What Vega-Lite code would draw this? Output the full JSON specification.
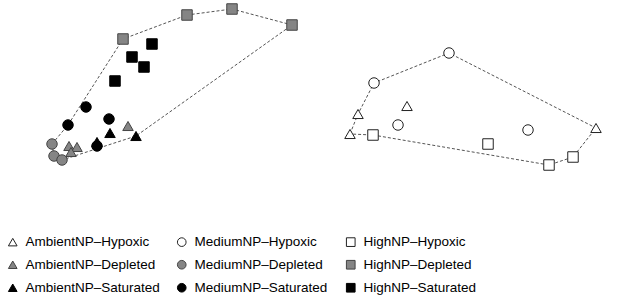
{
  "$schema": "https://vega.github.io/schema/vega-lite/v6.json",
  "padding": 0,
  "spacing": 0,
  "config": {
    "view": {"stroke": null},
    "font": "Liberation Sans",
    "legend": {
      "orient": "bottom",
      "columns": 3,
      "direction": "horizontal",
      "gridAlign": "all",
      "title": null,
      "labelFont": "Liberation Sans",
      "labelFontSize": 13.5,
      "labelColor": "#000000",
      "symbolSize": 75,
      "symbolStrokeWidth": 1,
      "rowPadding": 8,
      "columnPadding": 15,
      "labelOffset": 6,
      "offset": 29,
      "padding": 6,
      "labelLimit": 300
    }
  },
  "datasets": {
    "pts": [
      {"panel": "A", "group": "HighNP–Depleted", "NMDS1": -0.47, "NMDS2": 0.51},
      {"panel": "A", "group": "HighNP–Depleted", "NMDS1": 0.17, "NMDS2": 0.75},
      {"panel": "A", "group": "HighNP–Depleted", "NMDS1": 0.62, "NMDS2": 0.81},
      {"panel": "A", "group": "HighNP–Depleted", "NMDS1": 1.22, "NMDS2": 0.65},
      {"panel": "A", "group": "HighNP–Saturated", "NMDS1": -0.18, "NMDS2": 0.46},
      {"panel": "A", "group": "HighNP–Saturated", "NMDS1": -0.38, "NMDS2": 0.33},
      {"panel": "A", "group": "HighNP–Saturated", "NMDS1": -0.26, "NMDS2": 0.23},
      {"panel": "A", "group": "HighNP–Saturated", "NMDS1": -0.55, "NMDS2": 0.09},
      {"panel": "A", "group": "MediumNP–Saturated", "NMDS1": -0.84, "NMDS2": -0.17},
      {"panel": "A", "group": "MediumNP–Saturated", "NMDS1": -1.02, "NMDS2": -0.35},
      {"panel": "A", "group": "MediumNP–Saturated", "NMDS1": -0.61, "NMDS2": -0.29},
      {"panel": "A", "group": "MediumNP–Saturated", "NMDS1": -0.73, "NMDS2": -0.56},
      {"panel": "A", "group": "MediumNP–Depleted", "NMDS1": -1.18, "NMDS2": -0.54},
      {"panel": "A", "group": "MediumNP–Depleted", "NMDS1": -1.16, "NMDS2": -0.66},
      {"panel": "A", "group": "MediumNP–Depleted", "NMDS1": -1.08, "NMDS2": -0.70},
      {"panel": "A", "group": "AmbientNP–Depleted", "NMDS1": -0.42, "NMDS2": -0.36},
      {"panel": "A", "group": "AmbientNP–Depleted", "NMDS1": -1.01, "NMDS2": -0.56},
      {"panel": "A", "group": "AmbientNP–Depleted", "NMDS1": -0.93, "NMDS2": -0.57},
      {"panel": "A", "group": "AmbientNP–Depleted", "NMDS1": -0.99, "NMDS2": -0.62},
      {"panel": "A", "group": "AmbientNP–Saturated", "NMDS1": -0.60, "NMDS2": -0.43},
      {"panel": "A", "group": "AmbientNP–Saturated", "NMDS1": -0.34, "NMDS2": -0.46},
      {"panel": "A", "group": "AmbientNP–Saturated", "NMDS1": -0.73, "NMDS2": -0.52},
      {"panel": "B", "group": "MediumNP–Hypoxic", "NMDS1": -0.43, "NMDS2": 0.37},
      {"panel": "B", "group": "MediumNP–Hypoxic", "NMDS1": -1.18, "NMDS2": 0.07},
      {"panel": "B", "group": "MediumNP–Hypoxic", "NMDS1": -0.94, "NMDS2": -0.35},
      {"panel": "B", "group": "MediumNP–Hypoxic", "NMDS1": 0.36, "NMDS2": -0.40},
      {"panel": "B", "group": "AmbientNP–Hypoxic", "NMDS1": -0.85, "NMDS2": -0.16},
      {"panel": "B", "group": "AmbientNP–Hypoxic", "NMDS1": -1.34, "NMDS2": -0.24},
      {"panel": "B", "group": "AmbientNP–Hypoxic", "NMDS1": -1.42, "NMDS2": -0.44},
      {"panel": "B", "group": "AmbientNP–Hypoxic", "NMDS1": 1.04, "NMDS2": -0.38},
      {"panel": "B", "group": "HighNP–Hypoxic", "NMDS1": -1.19, "NMDS2": -0.45},
      {"panel": "B", "group": "HighNP–Hypoxic", "NMDS1": -0.04, "NMDS2": -0.54},
      {"panel": "B", "group": "HighNP–Hypoxic", "NMDS1": 0.57, "NMDS2": -0.75},
      {"panel": "B", "group": "HighNP–Hypoxic", "NMDS1": 0.81, "NMDS2": -0.67}
    ],
    "hull": [
      {"panel": "A", "ord": 1, "NMDS1": -1.18, "NMDS2": -0.54},
      {"panel": "A", "ord": 2, "NMDS1": -1.02, "NMDS2": -0.35},
      {"panel": "A", "ord": 3, "NMDS1": -0.47, "NMDS2": 0.51},
      {"panel": "A", "ord": 4, "NMDS1": 0.17, "NMDS2": 0.75},
      {"panel": "A", "ord": 5, "NMDS1": 0.62, "NMDS2": 0.81},
      {"panel": "A", "ord": 6, "NMDS1": 1.22, "NMDS2": 0.65},
      {"panel": "A", "ord": 7, "NMDS1": -0.34, "NMDS2": -0.46},
      {"panel": "A", "ord": 8, "NMDS1": -1.08, "NMDS2": -0.70},
      {"panel": "A", "ord": 9, "NMDS1": -1.16, "NMDS2": -0.66},
      {"panel": "A", "ord": 10, "NMDS1": -1.18, "NMDS2": -0.54},
      {"panel": "B", "ord": 1, "NMDS1": -1.42, "NMDS2": -0.44},
      {"panel": "B", "ord": 2, "NMDS1": -1.34, "NMDS2": -0.24},
      {"panel": "B", "ord": 3, "NMDS1": -1.18, "NMDS2": 0.07},
      {"panel": "B", "ord": 4, "NMDS1": -0.43, "NMDS2": 0.37},
      {"panel": "B", "ord": 5, "NMDS1": 1.04, "NMDS2": -0.38},
      {"panel": "B", "ord": 6, "NMDS1": 0.81, "NMDS2": -0.67},
      {"panel": "B", "ord": 7, "NMDS1": 0.57, "NMDS2": -0.75},
      {"panel": "B", "ord": 8, "NMDS1": -1.19, "NMDS2": -0.45},
      {"panel": "B", "ord": 9, "NMDS1": -1.42, "NMDS2": -0.44}
    ]
  },
  "resolve": {"scale": {"shape": "shared", "fill": "shared", "stroke": "shared"}},
  "hconcat": [
    {
      "width": 322,
      "height": 200,
      "layer": [
        {
          "data": {"name": "hull"},
          "transform": [{"filter": "datum.panel === 'A'"}],
          "mark": {"type": "line", "color": "#555555", "strokeWidth": 1, "strokeDash": [3, 2]},
          "encoding": {
            "x": {"field": "NMDS1", "type": "quantitative", "scale": {"domain": [-1.7, 1.52], "nice": false, "zero": false}, "axis": null},
            "y": {"field": "NMDS2", "type": "quantitative", "scale": {"domain": [-1.1, 0.9], "nice": false, "zero": false}, "axis": null},
            "order": {"field": "ord", "type": "quantitative"}
          }
        },
        {
          "data": {"name": "pts"},
          "transform": [{"filter": "datum.panel === 'A'"}],
          "mark": {"type": "point", "filled": false, "size": 110, "strokeWidth": 1, "opacity": 1},
          "encoding": {
            "x": {"field": "NMDS1", "type": "quantitative", "scale": {"domain": [-1.7, 1.52], "nice": false, "zero": false}, "axis": null},
            "y": {"field": "NMDS2", "type": "quantitative", "scale": {"domain": [-1.1, 0.9], "nice": false, "zero": false}, "axis": null},
            "shape": {"field": "group", "type": "nominal", "scale": {"domain": ["AmbientNP–Hypoxic", "MediumNP–Hypoxic", "HighNP–Hypoxic", "AmbientNP–Depleted", "MediumNP–Depleted", "HighNP–Depleted", "AmbientNP–Saturated", "MediumNP–Saturated", "HighNP–Saturated"], "range": ["triangle-up", "circle", "square", "triangle-up", "circle", "square", "triangle-up", "circle", "square"]}},
            "fill": {"field": "group", "type": "nominal", "scale": {"domain": ["AmbientNP–Hypoxic", "MediumNP–Hypoxic", "HighNP–Hypoxic", "AmbientNP–Depleted", "MediumNP–Depleted", "HighNP–Depleted", "AmbientNP–Saturated", "MediumNP–Saturated", "HighNP–Saturated"], "range": ["#ffffff", "#ffffff", "#ffffff", "#858585", "#858585", "#858585", "#000000", "#000000", "#000000"]}},
            "stroke": {"field": "group", "type": "nominal", "scale": {"domain": ["AmbientNP–Hypoxic", "MediumNP–Hypoxic", "HighNP–Hypoxic", "AmbientNP–Depleted", "MediumNP–Depleted", "HighNP–Depleted", "AmbientNP–Saturated", "MediumNP–Saturated", "HighNP–Saturated"], "range": ["#222222", "#222222", "#222222", "#444444", "#444444", "#444444", "#000000", "#000000", "#000000"]}}
          }
        }
      ]
    },
    {
      "width": 322,
      "height": 200,
      "layer": [
        {
          "data": {"name": "hull"},
          "transform": [{"filter": "datum.panel === 'B'"}],
          "mark": {"type": "line", "color": "#555555", "strokeWidth": 1, "strokeDash": [3, 2]},
          "encoding": {
            "x": {"field": "NMDS1", "type": "quantitative", "scale": {"domain": [-1.7, 1.52], "nice": false, "zero": false}, "axis": null},
            "y": {"field": "NMDS2", "type": "quantitative", "scale": {"domain": [-1.1, 0.9], "nice": false, "zero": false}, "axis": null},
            "order": {"field": "ord", "type": "quantitative"}
          }
        },
        {
          "data": {"name": "pts"},
          "transform": [{"filter": "datum.panel === 'B'"}],
          "mark": {"type": "point", "filled": false, "size": 110, "strokeWidth": 1, "opacity": 1},
          "encoding": {
            "x": {"field": "NMDS1", "type": "quantitative", "scale": {"domain": [-1.7, 1.52], "nice": false, "zero": false}, "axis": null},
            "y": {"field": "NMDS2", "type": "quantitative", "scale": {"domain": [-1.1, 0.9], "nice": false, "zero": false}, "axis": null},
            "shape": {"field": "group", "type": "nominal", "scale": {"domain": ["AmbientNP–Hypoxic", "MediumNP–Hypoxic", "HighNP–Hypoxic", "AmbientNP–Depleted", "MediumNP–Depleted", "HighNP–Depleted", "AmbientNP–Saturated", "MediumNP–Saturated", "HighNP–Saturated"], "range": ["triangle-up", "circle", "square", "triangle-up", "circle", "square", "triangle-up", "circle", "square"]}},
            "fill": {"field": "group", "type": "nominal", "scale": {"domain": ["AmbientNP–Hypoxic", "MediumNP–Hypoxic", "HighNP–Hypoxic", "AmbientNP–Depleted", "MediumNP–Depleted", "HighNP–Depleted", "AmbientNP–Saturated", "MediumNP–Saturated", "HighNP–Saturated"], "range": ["#ffffff", "#ffffff", "#ffffff", "#858585", "#858585", "#858585", "#000000", "#000000", "#000000"]}},
            "stroke": {"field": "group", "type": "nominal", "scale": {"domain": ["AmbientNP–Hypoxic", "MediumNP–Hypoxic", "HighNP–Hypoxic", "AmbientNP–Depleted", "MediumNP–Depleted", "HighNP–Depleted", "AmbientNP–Saturated", "MediumNP–Saturated", "HighNP–Saturated"], "range": ["#222222", "#222222", "#222222", "#444444", "#444444", "#444444", "#000000", "#000000", "#000000"]}}
          }
        }
      ]
    }
  ]
}
